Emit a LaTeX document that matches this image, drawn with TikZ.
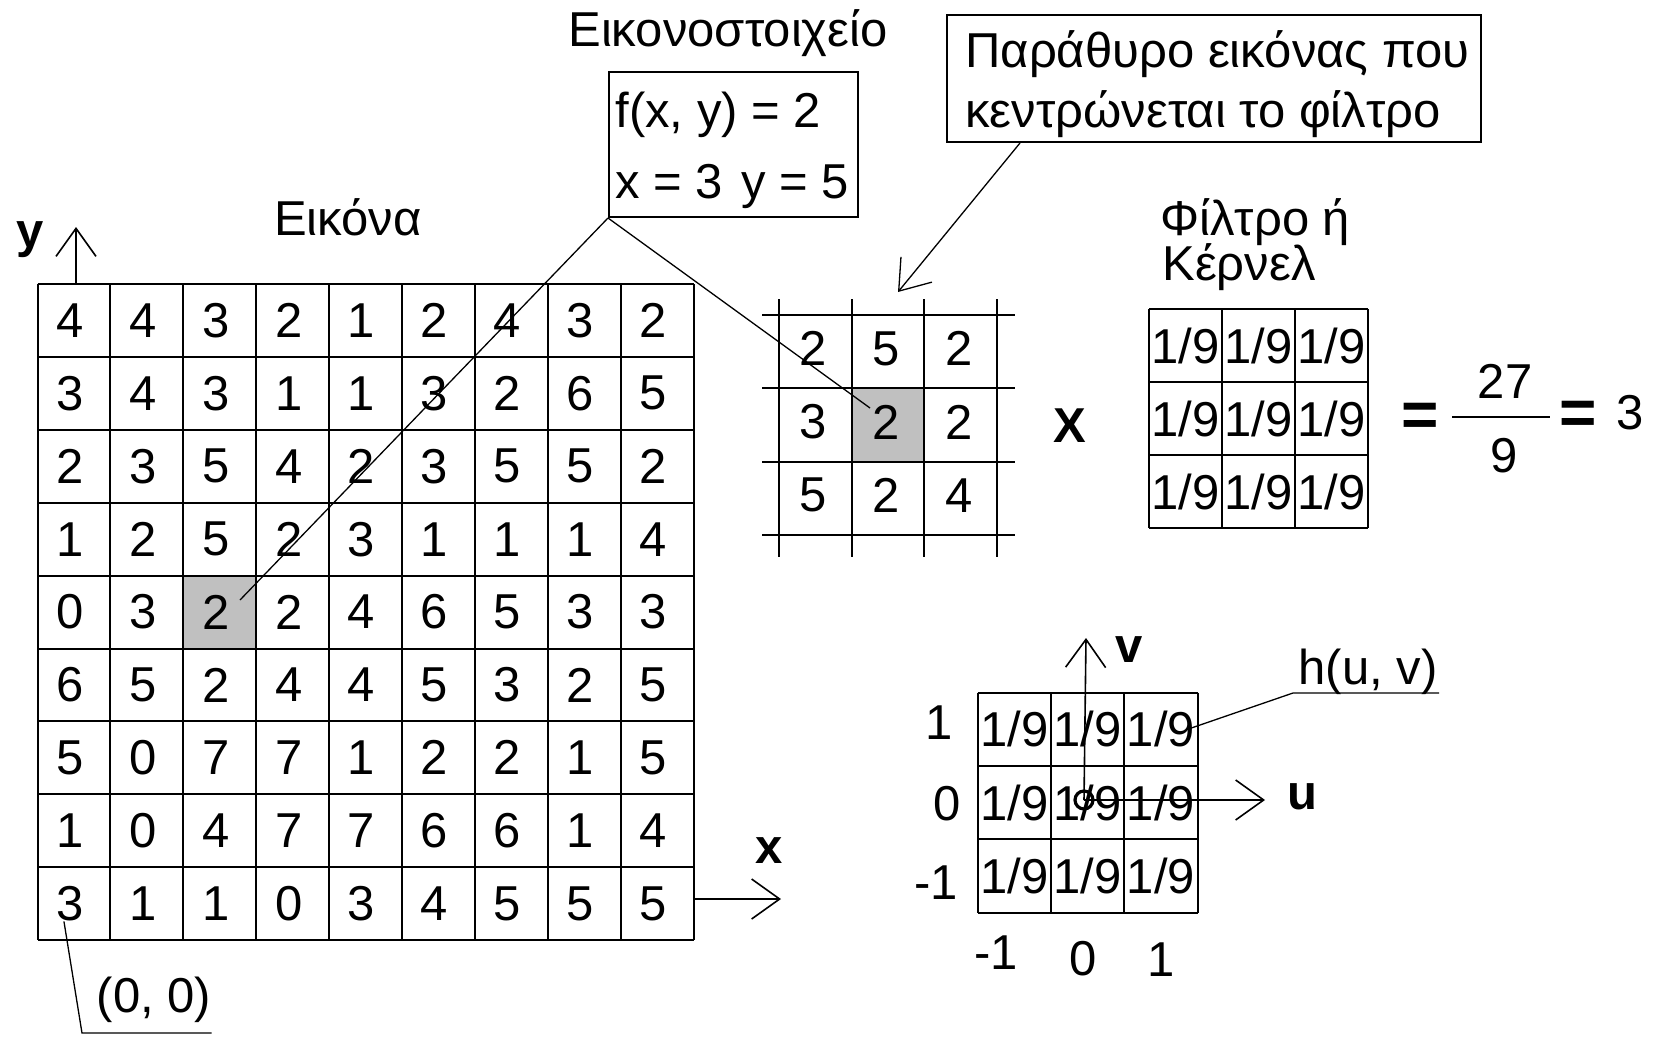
\documentclass[tikz,border=0pt]{standalone}
\usepackage{fontspec}
\setmainfont{Liberation Sans}
\usetikzlibrary{arrows.meta}
\definecolor{cShade}{HTML}{C0C0C0}
\tikzset{
  txt/.style    ={font=\fontsize{24.5}{29}\selectfont, inner sep=0pt},
  axlbl/.style  ={inner sep=0pt, font=\fontsize{24.5}{29}\selectfont\bfseries},
  eqsign/.style ={inner sep=0pt, font=\fontsize{32}{36}\selectfont\bfseries},
  boxed/.style  ={draw, line width=1pt, inner sep=0pt},
  gline/.style  ={line width=1pt},
  lead/.style   ={line width=0.65pt},
  axarr/.style  ={-{Straight Barb[length=14pt,width=20pt]}, line width=0.8pt},
  hotcell/.style={fill=cShade},
  ring/.style   ={draw, circle, line width=1.6pt, minimum size=9pt, inner sep=0pt},
}

\begin{document}
\begin{tikzpicture}[x=0.5pt,y=-0.5pt]
\useasboundingbox (0,0) rectangle (1653,1038);

% image f(x,y)
\fill[hotcell] (183.3,575.6) rectangle ++(72.9,72.9);
\foreach \k in {0,...,9}{
  \draw[gline] ({37.5+72.9*\k},284) -- ++(0,656.1);
  \draw[gline] (37.5,{284+72.9*\k}) -- ++(656.1,0);
}
\foreach \row [count=\j] in {{4,4,3,2,1,2,4,3,2},{3,4,3,1,1,3,2,6,5},{2,3,5,4,2,3,5,5,2},
    {1,2,5,2,3,1,1,1,4},{0,3,2,2,4,6,5,3,3},{6,5,2,4,4,5,3,2,5},{5,0,7,7,1,2,2,1,5},
    {1,0,4,7,7,6,6,1,4},{3,1,1,0,3,4,5,5,5}}
  \foreach \v [count=\i] in \row
    \node[txt] (f-\i-\j) at ({37.5+72.9*(\i-0.5)-4},{284+72.9*(\j-0.5)}) {\v};
\node[txt, anchor=base] (imgttl) at (348,235) {Εικόνα};

\coordinate (yfoot) at (76,284);  \coordinate (ytip) at (76,227);
\coordinate (xfoot) at (694,899); \coordinate (xtip) at (781,899);
\draw[axarr] (yfoot) -- (ytip);
\draw[axarr] (xfoot) -- (xtip);
\node[axlbl] (ylbl) at (30,240) {y};
\node[axlbl] (xlbl) at (769,851) {x};

\node[txt, anchor=base] (orig) at (154,1012) {(0, 0)};
\coordinate (oknee) at (82,1033);
\draw[lead] ([xshift=-3pt]f-1-9.south) -- (oknee) -- (oknee -| orig.east);

% pixel
\node[txt, anchor=base] (pxttl) at (728,47) {Εικονοστοιχείο};
\node[boxed, minimum width=124.5pt, minimum height=72.5pt] (pxbox) at (733.5,144.5) {};
\node[txt, anchor=base west] (fxy) at (615,127) {f(x, y) = 2};
\node[txt, anchor=base west] (xyv) at (615,198) {x = 3 \hspace{0.1em}y = 5};

% window
\fill[hotcell] (851.7,388.3) rectangle ++(72.7,73.3);
\foreach \k in {0,...,3}{
  \draw[gline] ({779+72.7*\k},299) -- ++(0,258);
  \draw[gline] (762,{315+73.3*\k}) -- ++(253,0);
}
\foreach \row [count=\j] in {{2,5,2},{3,2,2},{5,2,4}}
  \foreach \v [count=\i] in \row
    \node[txt] (w-\i-\j) at ({779+72.7*(\i-0.5)-2},{315+73.3*(\j-0.5)-3}) {\v};

\node[boxed, minimum width=267pt, minimum height=63.5pt] (winbox) at (1214,78.5) {};
\node[txt, anchor=base west] (winl1) at (965,68) {Παράθυρο εικόνας που};
\node[txt, anchor=base west] (winl2) at (965,127) {κεντρώνεται το φίλτρο};
\coordinate (wintip) at (898,292);
\draw[axarr, line width=0.65pt] ([xshift=37pt]winbox.south west) -- (wintip);

\coordinate (pxhit) at (240,600);
\coordinate (winhit) at (870,408);
\draw[lead] (pxbox.south west) -- (pxhit);
\draw[lead] (pxbox.south west) -- (winhit);

% kernel
\node[txt, anchor=base west] (kerl1) at (1160,235) {Φίλτρο ή};
\node[txt, anchor=base west] (kerl2) at (1162,280) {Κέρνελ};
\foreach \k in {0,...,3}{
  \draw[gline] ({1149+73*\k},309) -- ++(0,219);
  \draw[gline] (1149,{309+73*\k}) -- ++(219,0);
}
\foreach \j in {1,2,3}
  \foreach \i in {1,2,3}
    \node[txt] (k-\i-\j) at ({1149+73*(\i-0.5)},{309+73*(\j-0.5)}) {1/9};

\node[axlbl] (times) at (1070,426) {X};
\node[eqsign] (eq1) at (1420,420) {=};
\node[txt] (num) at (1505,381) {27};
\node[txt] (den) at (1504,456) {9};
\coordinate (barl) at (1452,417); \coordinate (barr) at (1550,417);
\draw[line width=1pt] (barl) -- (barr);
\node[eqsign] (eq2) at (1578,418) {=};
\node[txt] (res) at (1630,413) {3};

% h(u,v)
\foreach \k in {0,...,3}{
  \draw[gline] ({977.7+73.3*\k},692.7) -- ++(0,219.9);
  \draw[gline] (977.7,{692.7+73.3*\k}) -- ++(219.9,0);
}
\foreach \j in {1,2,3}
  \foreach \i in {1,2,3}
    \node[txt] (h-\i-\j) at ({977.7+73.3*(\i-0.5)},{692.7+73.3*(\j-0.5)}) {1/9};

\node[ring] (horg) at (1084,800) {};
\coordinate (vtip) at (1086,638); \coordinate (utip) at (1265,800);
\draw[axarr] (horg.center) -- (vtip);
\draw[axarr] (horg.center) -- (utip);
\node[axlbl] (vlbl) at (1129,650) {v};
\node[axlbl] (ulbl) at (1302,797) {u};

\node[txt] (rp1) at (939,723) {1};
\node[txt] (r0)  at (947,804) {0};
\node[txt] (rm1) at (936,883) {-1};
\node[txt] (cm1) at (996,953) {-1};
\node[txt] (c0)  at (1083,959) {0};
\node[txt] (cp1) at (1161,960) {1};

\node[txt, anchor=base] (hlbl) at (1368,684) {h(u, v)};
\coordinate (hknee) at (1293,693);
\draw[lead] ([xshift=-4pt]h-3-1.east) -- (hknee) -- ++(146,0);
\end{tikzpicture}
\end{document}
